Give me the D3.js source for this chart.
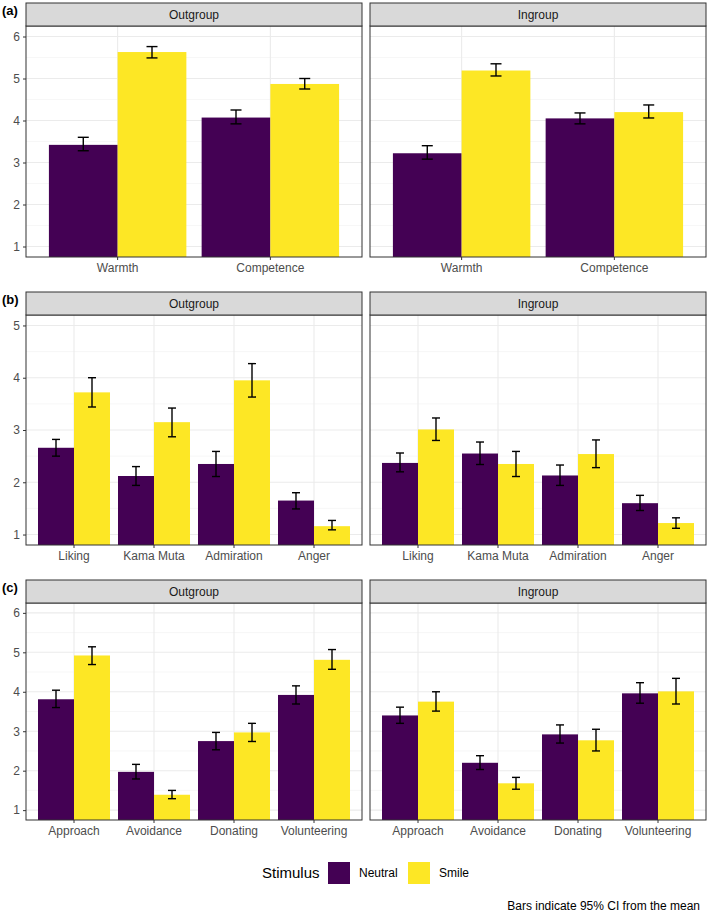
<!DOCTYPE html>
<html>
<head>
<meta charset="utf-8">
<script src="https://cdn.jsdelivr.net/npm/d3@7"></script>
<style>
  body { margin: 0; background: #fff; }
  svg { display: block; font-family: "Liberation Sans", Arial, sans-serif; }
</style>
</head>
<body>
<svg id="chart" width="709" height="912"></svg>
<script>
const stimuli = ["Neutral", "Smile"];
const groups = ["Outgroup", "Ingroup"];
const colors = ["#440154", "#FDE725"];

const catsA = ["Warmth", "Competence"];
const catsB = ["Liking", "Kama Muta", "Admiration", "Anger"];
const catsC = ["Approach", "Avoidance", "Donating", "Volunteering"];

const ticksA = [1, 2, 3, 4, 5, 6];
const ticksB = [1, 2, 3, 4, 5];
const ticksC = [1, 2, 3, 4, 5, 6];

// each entry: [mean, lower 95% CI, upper 95% CI]
const aOutNeutral = [[3.42, 3.28, 3.60], [4.07, 3.92, 4.25]];
const aOutSmile   = [[5.63, 5.49, 5.76], [4.87, 4.75, 5.00]];
const aInNeutral  = [[3.22, 3.08, 3.40], [4.05, 3.92, 4.18]];
const aInSmile    = [[5.19, 5.06, 5.35], [4.20, 4.06, 4.37]];

const bOutNeutral = [[2.66, 2.50, 2.82], [2.12, 1.94, 2.30], [2.35, 2.11, 2.59], [1.65, 1.49, 1.80]];
const bOutSmile   = [[3.72, 3.44, 4.00], [3.15, 2.87, 3.42], [3.95, 3.63, 4.27], [1.16, 1.09, 1.27]];
const bInNeutral  = [[2.37, 2.20, 2.56], [2.55, 2.34, 2.77], [2.13, 1.94, 2.33], [1.60, 1.46, 1.75]];
const bInSmile    = [[3.01, 2.80, 3.23], [2.35, 2.11, 2.59], [2.54, 2.28, 2.81], [1.22, 1.12, 1.32]];

const cOutNeutral = [[3.81, 3.60, 4.04], [1.97, 1.79, 2.16], [2.75, 2.53, 2.97], [3.92, 3.69, 4.15]];
const cOutSmile   = [[4.92, 4.69, 5.14], [1.39, 1.29, 1.50], [2.97, 2.74, 3.20], [4.81, 4.57, 5.07]];
const cInNeutral  = [[3.40, 3.20, 3.61], [2.20, 2.03, 2.38], [2.92, 2.70, 3.16], [3.96, 3.71, 4.23]];
const cInSmile    = [[3.75, 3.51, 4.00], [1.68, 1.53, 1.83], [2.77, 2.50, 3.05], [4.01, 3.69, 4.34]];

const rows = [
  { label: "(a)", cats: catsA, ticks: ticksA, top: 26, bottom: 257, cap: 11,
    data: { Outgroup: [aOutNeutral, aOutSmile], Ingroup: [aInNeutral, aInSmile] } },
  { label: "(b)", cats: catsB, ticks: ticksB, top: 315, bottom: 545, cap: 8,
    data: { Outgroup: [bOutNeutral, bOutSmile], Ingroup: [bInNeutral, bInSmile] } },
  { label: "(c)", cats: catsC, ticks: ticksC, top: 603, bottom: 820, cap: 8,
    data: { Outgroup: [cOutNeutral, cOutSmile], Ingroup: [cInNeutral, cInSmile] } }
];

const panelX = { Outgroup: [26, 362], Ingroup: [370, 706] };
const stripH = 23;

const svg = d3.select("#chart");

rows.forEach((row, ri) => {
  const lo = d3.min(row.ticks), hi = d3.max(row.ticks);
  const pad = (hi - lo) * 0.05;
  const y = d3.scaleLinear().domain([lo - pad, hi + pad]).range([row.bottom, row.top]);

  // row tag (a), (b), (c)
  svg.append("text")
    .attr("x", 2).attr("y", row.top - stripH + 12)
    .attr("font-size", 13).attr("font-weight", "bold").attr("fill", "#000")
    .text(row.label);

  groups.forEach((grp, gi) => {
    const [x0, x1] = panelX[grp];
    const x = d3.scaleBand().domain(row.cats).range([x0, x1])
      .paddingInner(0.1).paddingOuter(0.15);
    const xs = d3.scaleBand().domain(stimuli).range([0, x.bandwidth()]).padding(0);
    const center = c => x(c) + x.bandwidth() / 2;

    const g = svg.append("g");
    const clipId = `clip-${ri}-${gi}`;
    g.append("clipPath").attr("id", clipId)
      .append("rect").attr("x", x0).attr("y", row.top).attr("width", x1 - x0).attr("height", row.bottom - row.top);

    // grid: minor then major
    const minor = d3.range(lo - 0.5, hi + 1, 1).filter(v => v > y.domain()[0] && v < y.domain()[1]);
    g.selectAll(".minor").data(minor).enter().append("line")
      .attr("x1", x0).attr("x2", x1).attr("y1", d => y(d)).attr("y2", d => y(d))
      .attr("stroke", "#F2F2F2").attr("stroke-width", 0.6);
    g.selectAll(".major").data(row.ticks).enter().append("line")
      .attr("x1", x0).attr("x2", x1).attr("y1", d => y(d)).attr("y2", d => y(d))
      .attr("stroke", "#EBEBEB").attr("stroke-width", 1.1);
    g.selectAll(".vmajor").data(row.cats).enter().append("line")
      .attr("x1", center).attr("x2", center).attr("y1", row.top).attr("y2", row.bottom)
      .attr("stroke", "#EBEBEB").attr("stroke-width", 1.1);

    // bars
    const series = row.data[grp];
    const bars = g.append("g").attr("clip-path", `url(#${clipId})`);
    stimuli.forEach((s, si) => {
      bars.selectAll(null).data(series[si]).enter().append("rect")
        .attr("x", (d, i) => x(row.cats[i]) + xs(s))
        .attr("width", xs.bandwidth())
        .attr("y", d => y(d[0]))
        .attr("height", d => row.bottom - y(d[0]))
        .attr("fill", colors[si]);
    });

    // error bars
    stimuli.forEach((s, si) => {
      const eb = g.selectAll(null).data(series[si]).enter().append("g")
        .attr("transform", (d, i) => `translate(${x(row.cats[i]) + xs(s) + xs.bandwidth() / 2},0)`);
      eb.append("line").attr("x1", 0).attr("x2", 0)
        .attr("y1", d => y(d[1])).attr("y2", d => y(d[2]))
        .attr("stroke", "#000").attr("stroke-width", 1.4);
      eb.append("line").attr("x1", -row.cap / 2).attr("x2", row.cap / 2)
        .attr("y1", d => y(d[1])).attr("y2", d => y(d[1]))
        .attr("stroke", "#000").attr("stroke-width", 1.4);
      eb.append("line").attr("x1", -row.cap / 2).attr("x2", row.cap / 2)
        .attr("y1", d => y(d[2])).attr("y2", d => y(d[2]))
        .attr("stroke", "#000").attr("stroke-width", 1.4);
    });

    // panel border
    g.append("rect").attr("x", x0).attr("y", row.top)
      .attr("width", x1 - x0).attr("height", row.bottom - row.top)
      .attr("fill", "none").attr("stroke", "#333").attr("stroke-width", 1);

    // strip
    g.append("rect").attr("x", x0).attr("y", row.top - stripH)
      .attr("width", x1 - x0).attr("height", stripH)
      .attr("fill", "#D9D9D9").attr("stroke", "#333").attr("stroke-width", 1);
    g.append("text").attr("x", (x0 + x1) / 2).attr("y", row.top - stripH / 2 + 4.5)
      .attr("text-anchor", "middle").attr("font-size", 12).attr("fill", "#1A1A1A")
      .text(grp);

    // x axis
    const xAxis = g.append("g").attr("transform", `translate(0,${row.bottom})`)
      .call(d3.axisBottom(x).tickSize(3).tickPadding(3));
    xAxis.select(".domain").remove();
    xAxis.selectAll(".tick line").attr("stroke", "#333");
    xAxis.selectAll(".tick text").attr("font-size", 12).attr("fill", "#4D4D4D")
      .attr("font-family", "Liberation Sans, Arial, sans-serif");

    // y axis (left panel only)
    if (gi === 0) {
      const yAxis = g.append("g").attr("transform", `translate(${x0},0)`)
        .call(d3.axisLeft(y).tickValues(row.ticks).tickFormat(d3.format("d")).tickSize(3).tickPadding(3));
      yAxis.select(".domain").remove();
      yAxis.selectAll(".tick line").attr("stroke", "#333");
      yAxis.selectAll(".tick text").attr("font-size", 12).attr("fill", "#4D4D4D")
        .attr("font-family", "Liberation Sans, Arial, sans-serif");
    }
  });
});

// legend
const legend = svg.append("g");
legend.append("text").attr("x", 262).attr("y", 878)
  .attr("font-size", 15).attr("fill", "#000").text("Stimulus");
const keyX = [328, 408];
stimuli.forEach((s, i) => {
  legend.append("rect").attr("x", keyX[i]).attr("y", 862).attr("width", 22).attr("height", 22)
    .attr("fill", colors[i]);
  legend.append("text").attr("x", keyX[i] + 31).attr("y", 877)
    .attr("font-size", 12).attr("fill", "#000").text(s);
});

// caption
svg.append("text").attr("x", 700).attr("y", 910).attr("text-anchor", "end")
  .attr("font-size", 12).attr("fill", "#000").text("Bars indicate 95% CI from the mean");
</script>
</body>
</html>
